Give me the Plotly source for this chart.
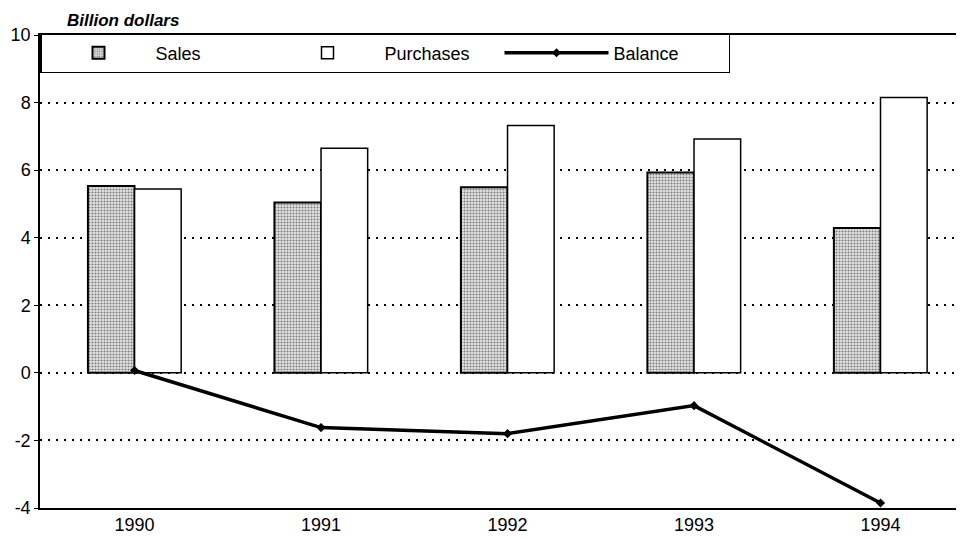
import plotly.graph_objects as go

years = ["1990", "1991", "1992", "1993", "1994"]
sales = [5.53, 5.04, 5.49, 5.93, 4.29]
purchases = [5.44, 6.65, 7.32, 6.92, 8.15]
balance = [0.07, -1.62, -1.80, -0.97, -3.85]

ytick_vals = [-4, -2, 0, 2, 4, 6, 8, 10]
ytick_text = ["-4", "-2", "0", "2", "4", "6", "8", "10"]

font_family = "Liberation Sans, Arial, sans-serif"

fig = go.Figure()
fig.add_trace(go.Bar(
    x=years, y=sales, name="Sales",
    marker=dict(color="#c8c8c8", line=dict(color="black", width=2),
                pattern=dict(shape=".", fgcolor="#1a1a1a", bgcolor="#e4e4e4",
                             size=3, solidity=0.4)),
))
fig.add_trace(go.Bar(
    x=years, y=purchases, name="Purchases",
    marker=dict(color="white", line=dict(color="black", width=1.5)),
))
fig.add_trace(go.Scatter(
    x=years, y=balance, name="Balance", mode="lines+markers",
    line=dict(color="black", width=3.5),
    marker=dict(symbol="diamond", size=7, color="black"),
))

fig.update_layout(
    width=956, height=531,
    margin=dict(l=32, r=2, t=27, b=31),
    paper_bgcolor="white", plot_bgcolor="white",
    barmode="group", bargap=0.5, bargroupgap=0,
    font=dict(family=font_family, size=18, color="black"),
    showlegend=True,
    legend=dict(
        orientation="h", x=0, y=1.004, xanchor="left", yanchor="top",
        bgcolor="white", bordercolor="black", borderwidth=1.5,
        entrywidth=110, entrywidthmode="pixels", itemwidth=104,
        font=dict(family=font_family, size=18, color="black"),
        traceorder="normal",
    ),
    xaxis=dict(
        type="category", range=[-0.507, 4.437],
        showline=True, linecolor="black", linewidth=1.5, mirror=True,
        showgrid=False, ticks="", tickfont=dict(size=18),
    ),
    yaxis=dict(
        range=[-4, 10], tickvals=ytick_vals, ticktext=ytick_text,
        showline=True, linecolor="black", linewidth=1.5,
        showgrid=True, gridcolor="black", griddash="2px,6px", gridwidth=1.5,
        zeroline=False, ticks="outside", ticklen=4, tickcolor="black",
        tickfont=dict(size=18),
    ),
    annotations=[dict(
        text="<b><i>Billion dollars</i></b>", xref="paper", yref="paper",
        x=0.027, y=1.0, xanchor="left", yanchor="bottom", showarrow=False,
        yshift=3, font=dict(size=17, family=font_family),
    )],
)

fig.write_html("out.html")
